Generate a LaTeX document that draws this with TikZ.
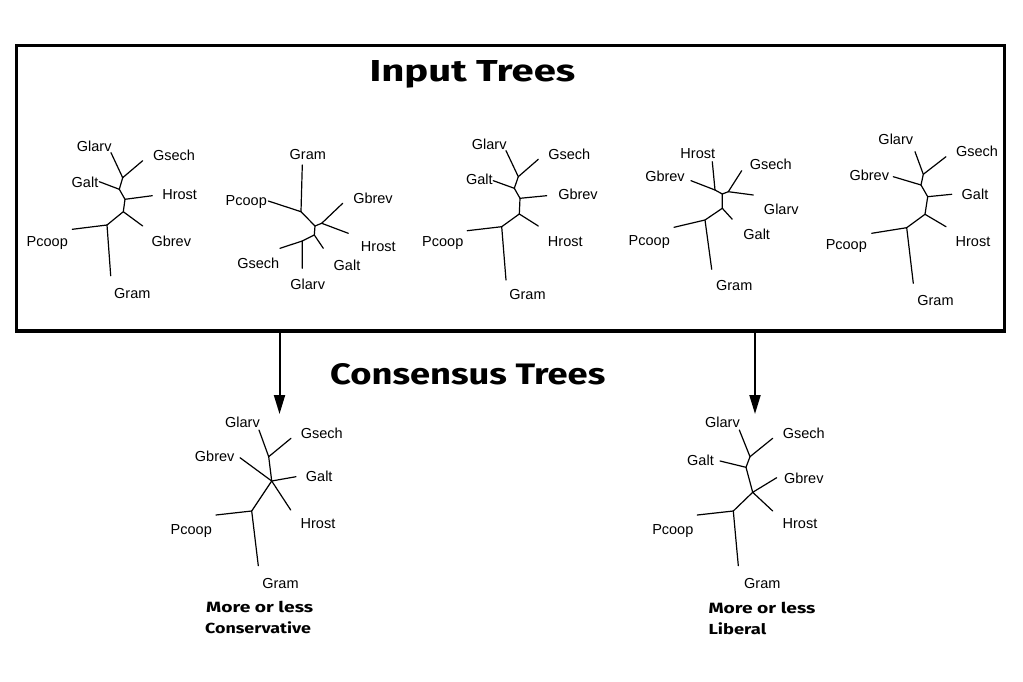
\documentclass[tikz,border=0pt]{standalone}
\usepackage{fontspec}
\setmainfont{Liberation Sans}
\newfontfamily\titlefont{Fira Sans}
\usetikzlibrary{arrows.meta}
\begin{document}
\begin{tikzpicture}[x=1pt,y=-1pt,
  br/.style={line width=1.2pt, line cap=round, line join=round},
  lab/.style={font=\fontsize{14.5}{16}\selectfont, inner sep=0pt, anchor=base},
  arr/.style={line width=2pt, -{Triangle[length=19pt,width=11pt]}},
  ttl/.style={inner sep=0pt, anchor=base west}]
\useasboundingbox (0,0) rectangle (1023,682);
\fill[white] (0,0) rectangle (1023,682);

% frame around the input trees
\node[draw, line width=3.5pt, inner sep=0pt, outer sep=0pt, minimum width=988pt, minimum height=285.3pt, anchor=north west] (inbox) at (16.5,45.7) {};

% titles
\node[ttl] (ttlin) at (369.3,81.7) {\resizebox{205.7pt}{21pt}{\titlefont\bfseries Input Trees}};
\node[ttl] (ttlcons) at (330,384) {\resizebox{275pt}{21pt}{\titlefont\bfseries Consensus Trees}};

% arrows
\coordinate (a1s) at (279.5,331);
\coordinate (a1e) at (279.5,414);
\coordinate (a2s) at (755,331);
\coordinate (a2e) at (755,414);
\draw[arr] (a1s) -- (a1e);
\draw[arr] (a2s) -- (a2e);

% ---------------- Tree 1
\coordinate (t1glarv) at (111,152.7);
\coordinate (t1A) at (122.7,177.7);
\coordinate (t1gsech) at (142.7,160.7);
\coordinate (t1B) at (119.3,189.3);
\coordinate (t1galt) at (99.3,181.7);
\coordinate (t1C) at (125,199.3);
\coordinate (t1hrost) at (152.3,195.7);
\coordinate (t1D) at (123.3,211.7);
\coordinate (t1gbrev) at (142.7,226);
\coordinate (t1E) at (107,225);
\coordinate (t1pcoop) at (72.3,229.3);
\coordinate (t1gram) at (110.7,275.7);
\draw[br] (t1glarv) -- (t1A) -- (t1B) -- (t1C) -- (t1D) -- (t1E) -- (t1gram);
\draw[br] (t1gsech) -- (t1A);
\draw[br] (t1galt) -- (t1B);
\draw[br] (t1hrost) -- (t1C);
\draw[br] (t1gbrev) -- (t1D);
\draw[br] (t1pcoop) -- (t1E);
\node[lab] (t1Lglarv) at (94.2,151.7) {Glarv};
\node[lab] (t1Lgsech) at (174,160.7) {Gsech};
\node[lab] (t1Lgalt) at (85,187.3) {Galt};
\node[lab] (t1Lhrost) at (179.7,200) {Hrost};
\node[lab] (t1Lpcoop) at (47.3,246.7) {Pcoop};
\node[lab] (t1Lgbrev) at (171.3,246.7) {Gbrev};
\node[lab] (t1Lgram) at (132.3,298.3) {Gram};

% ---------------- Tree 2
\coordinate (t2gram) at (302.3,165);
\coordinate (t2R) at (301,211.7);
\coordinate (t2pcoop) at (268.3,201);
\coordinate (t2S) at (315,226);
\coordinate (t2T) at (321.7,223.3);
\coordinate (t2gbrev) at (342.7,203.3);
\coordinate (t2hrost) at (348.3,233.3);
\coordinate (t2U) at (314.3,235);
\coordinate (t2galt) at (323.3,248.3);
\coordinate (t2V) at (302.3,241);
\coordinate (t2gsech) at (280,248.3);
\coordinate (t2glarv) at (302.3,268.3);
\draw[br] (t2gram) -- (t2R) -- (t2S) -- (t2U) -- (t2V) -- (t2glarv);
\draw[br] (t2pcoop) -- (t2R);
\draw[br] (t2S) -- (t2T);
\draw[br] (t2gbrev) -- (t2T) -- (t2hrost);
\draw[br] (t2U) -- (t2galt);
\draw[br] (t2gsech) -- (t2V);
\node[lab] (t2Lgram) at (307.8,160) {Gram};
\node[lab] (t2Lpcoop) at (246.3,205) {Pcoop};
\node[lab] (t2Lgbrev) at (373,204) {Gbrev};
\node[lab] (t2Lhrost) at (378.3,251.7) {Hrost};
\node[lab] (t2Lgalt) at (347,270) {Galt};
\node[lab] (t2Lgsech) at (258.3,268.3) {Gsech};
\node[lab] (t2Lglarv) at (307.7,289.3) {Glarv};

% ---------------- Tree 3
\coordinate (t3glarv) at (506,150.7);
\coordinate (t3A) at (518.3,176.7);
\coordinate (t3gsech) at (538.3,159.3);
\coordinate (t3B) at (514.3,188.3);
\coordinate (t3galt) at (493.3,180.7);
\coordinate (t3C) at (520,198.3);
\coordinate (t3gbrev) at (546.7,195.7);
\coordinate (t3D) at (519.3,214);
\coordinate (t3hrost) at (538.3,226);
\coordinate (t3E) at (501.7,226.7);
\coordinate (t3pcoop) at (467.3,230.7);
\coordinate (t3gram) at (506,280);
\draw[br] (t3glarv) -- (t3A) -- (t3B) -- (t3C) -- (t3D) -- (t3E) -- (t3gram);
\draw[br] (t3gsech) -- (t3A);
\draw[br] (t3galt) -- (t3B);
\draw[br] (t3gbrev) -- (t3C);
\draw[br] (t3hrost) -- (t3D);
\draw[br] (t3pcoop) -- (t3E);
\node[lab] (t3Lglarv) at (489.2,149.3) {Glarv};
\node[lab] (t3Lgsech) at (569.3,159.3) {Gsech};
\node[lab] (t3Lgalt) at (479.3,185) {Galt};
\node[lab] (t3Lgbrev) at (578,199.3) {Gbrev};
\node[lab] (t3Lpcoop) at (442.8,246.7) {Pcoop};
\node[lab] (t3Lhrost) at (565.3,246.7) {Hrost};
\node[lab] (t3Lgram) at (527.5,299.3) {Gram};

% ---------------- Tree 4
\coordinate (t4hrost) at (712.3,161.7);
\coordinate (t4P) at (715,190);
\coordinate (t4gbrev) at (691,180.7);
\coordinate (t4Q) at (722.3,194);
\coordinate (t4R) at (728.3,191.7);
\coordinate (t4gsech) at (741.7,170.7);
\coordinate (t4glarv) at (753.3,195);
\coordinate (t4S) at (722.3,208.3);
\coordinate (t4galt) at (732.3,219.3);
\coordinate (t4T) at (705,220);
\coordinate (t4pcoop) at (674,227.3);
\coordinate (t4gram) at (711.7,269.3);
\draw[br] (t4hrost) -- (t4P) -- (t4Q) -- (t4S) -- (t4T) -- (t4gram);
\draw[br] (t4gbrev) -- (t4P);
\draw[br] (t4Q) -- (t4R);
\draw[br] (t4gsech) -- (t4R) -- (t4glarv);
\draw[br] (t4S) -- (t4galt);
\draw[br] (t4pcoop) -- (t4T);
\node[lab] (t4Lhrost) at (697.8,158.3) {Hrost};
\node[lab] (t4Lgsech) at (770.8,169.3) {Gsech};
\node[lab] (t4Lgbrev) at (665,181.7) {Gbrev};
\node[lab] (t4Lglarv) at (781.3,214) {Glarv};
\node[lab] (t4Lgalt) at (756.7,239.3) {Galt};
\node[lab] (t4Lpcoop) at (649.3,245) {Pcoop};
\node[lab] (t4Lgram) at (734.2,290) {Gram};

% ---------------- Tree 5
\coordinate (t5glarv) at (915,151.7);
\coordinate (t5A) at (923.3,174.3);
\coordinate (t5gsech) at (946,156.7);
\coordinate (t5B) at (921,185);
\coordinate (t5gbrev) at (893.3,176.7);
\coordinate (t5C) at (927.7,196.7);
\coordinate (t5galt) at (951.7,194.3);
\coordinate (t5D) at (925,214.3);
\coordinate (t5hrost) at (946,226.7);
\coordinate (t5E) at (906.7,227.7);
\coordinate (t5pcoop) at (871.7,233.3);
\coordinate (t5gram) at (913.3,283.3);
\draw[br] (t5glarv) -- (t5A) -- (t5B) -- (t5C) -- (t5D) -- (t5E) -- (t5gram);
\draw[br] (t5gsech) -- (t5A);
\draw[br] (t5gbrev) -- (t5B);
\draw[br] (t5galt) -- (t5C);
\draw[br] (t5hrost) -- (t5D);
\draw[br] (t5pcoop) -- (t5E);
\node[lab] (t5Lglarv) at (895.8,145) {Glarv};
\node[lab] (t5Lgsech) at (977,156.7) {Gsech};
\node[lab] (t5Lgbrev) at (869.3,181) {Gbrev};
\node[lab] (t5Lgalt) at (975,199) {Galt};
\node[lab] (t5Lpcoop) at (846.3,249) {Pcoop};
\node[lab] (t5Lhrost) at (973,246.7) {Hrost};
\node[lab] (t5Lgram) at (935.5,305) {Gram};

% ---------------- Conservative consensus
\coordinate (ccglarv) at (259,430);
\coordinate (ccA) at (268.7,456.7);
\coordinate (ccgsech) at (291,438.3);
\coordinate (ccC) at (271.7,481);
\coordinate (ccgbrev) at (240,457.7);
\coordinate (ccgalt) at (296,476.7);
\coordinate (cchrost) at (290.7,510);
\coordinate (ccE) at (251.7,511);
\coordinate (ccpcoop) at (216,515);
\coordinate (ccgram) at (258.3,565.7);
\draw[br] (ccglarv) -- (ccA) -- (ccC) -- (ccE) -- (ccgram);
\draw[br] (ccgsech) -- (ccA);
\draw[br] (ccgbrev) -- (ccC) -- (ccgalt);
\draw[br] (ccC) -- (cchrost);
\draw[br] (ccpcoop) -- (ccE);
\node[lab] (ccLglarv) at (242.5,427.7) {Glarv};
\node[lab] (ccLgsech) at (321.7,438.3) {Gsech};
\node[lab] (ccLgbrev) at (214.7,461.7) {Gbrev};
\node[lab] (ccLgalt) at (319.2,481.7) {Galt};
\node[lab] (ccLhrost) at (318,528.3) {Hrost};
\node[lab] (ccLpcoop) at (191.3,534) {Pcoop};
\node[lab] (ccLgram) at (280.5,588.3) {Gram};
\node[ttl] (cons1) at (206,612.3) {\resizebox{107pt}{11.3pt}{\titlefont\bfseries More or less}};
\node[ttl] (cons2) at (205,633.3) {\resizebox{105.7pt}{11.8pt}{\titlefont\bfseries Conservative}};

% ---------------- Liberal consensus
\coordinate (lcglarv) at (739.3,430);
\coordinate (lcA) at (750,456.7);
\coordinate (lcgsech) at (772.7,438.3);
\coordinate (lcB) at (746,467.3);
\coordinate (lcgalt) at (720,461);
\coordinate (lcC) at (752.7,492.3);
\coordinate (lcgbrev) at (776.7,477.7);
\coordinate (lchrost) at (772.7,511);
\coordinate (lcE) at (733.3,511);
\coordinate (lcpcoop) at (697.3,515);
\coordinate (lcgram) at (738.3,565.7);
\draw[br] (lcglarv) -- (lcA) -- (lcB) -- (lcC) -- (lcE) -- (lcgram);
\draw[br] (lcgsech) -- (lcA);
\draw[br] (lcgalt) -- (lcB);
\draw[br] (lcgbrev) -- (lcC) -- (lchrost);
\draw[br] (lcpcoop) -- (lcE);
\node[lab] (lcLglarv) at (722.5,427.7) {Glarv};
\node[lab] (lcLgsech) at (803.8,438.3) {Gsech};
\node[lab] (lcLgalt) at (700.5,465.7) {Galt};
\node[lab] (lcLgbrev) at (803.8,483.3) {Gbrev};
\node[lab] (lcLhrost) at (800,528.3) {Hrost};
\node[lab] (lcLpcoop) at (672.8,534) {Pcoop};
\node[lab] (lcLgram) at (762.3,588.3) {Gram};
\node[ttl] (lib1) at (708.3,613) {\resizebox{107pt}{11.3pt}{\titlefont\bfseries More or less}};
\node[ttl] (lib2) at (708.3,634.3) {\resizebox{57.7pt}{11.8pt}{\titlefont\bfseries Liberal}};
\end{tikzpicture}
\end{document}
